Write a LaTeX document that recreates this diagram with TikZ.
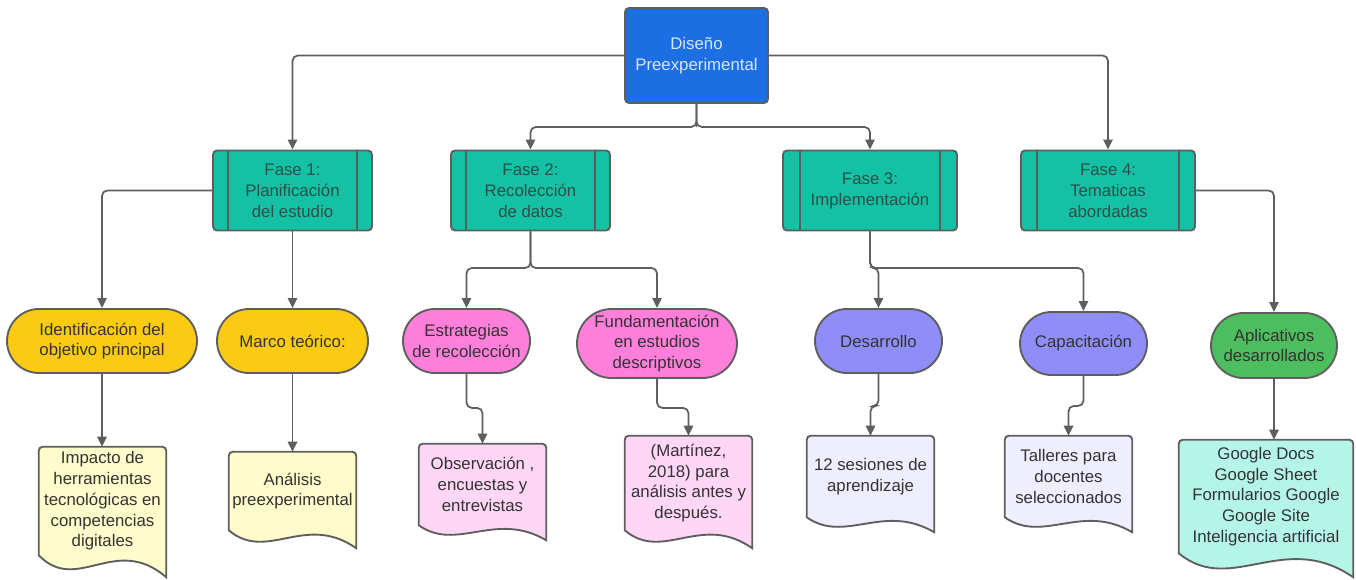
\documentclass[tikz,border=0pt]{standalone}
\usepackage{fontspec}
\setmainfont{Liberation Sans}
\usetikzlibrary{arrows.meta,shapes.misc,calc,backgrounds}
\definecolor{rootblue}{HTML}{1C6EE3}
\definecolor{roottxt}{HTML}{D7E6FF}
\definecolor{teal}{HTML}{14C1A4}
\definecolor{tealtxt}{HTML}{2F4F4A}
\definecolor{tyellow}{HTML}{FBCB14}
\definecolor{tpink}{HTML}{FF7FDB}
\definecolor{tpurple}{HTML}{8F8DF8}
\definecolor{tgreen}{HTML}{4DBE5D}
\definecolor{dyellow}{HTML}{FFFCCB}
\definecolor{dpink}{HTML}{FFD6F5}
\definecolor{dlav}{HTML}{EEEEFF}
\definecolor{dcyan}{HTML}{B5F5E8}
\definecolor{lin}{HTML}{5E5E5E}
\definecolor{txt}{HTML}{333333}
\tikzset{
  every node/.style={font=\fontsize{12.6}{15.6}\selectfont, align=center},
  rootbox/.style={draw=lin, line width=1.4pt, fill=rootblue, rounded corners=3pt, text=roottxt,
     minimum width=107.25pt, minimum height=71.25pt, inner sep=0pt},
  fasebox/.style={draw=lin, line width=1.4pt, fill=teal, rounded corners=3pt, text=tealtxt,
     minimum width=119.25pt, minimum height=60pt, inner sep=0pt},
  term/.style={rounded rectangle, draw=lin, line width=1.4pt, text=txt, inner sep=0pt,
     minimum height=48pt},
  doc/.style={text=txt, inner sep=0pt},
  conn/.style={draw=lin, line width=1.3pt, rounded corners=4pt, -{Triangle[length=7.5pt,width=7pt]}},
  plain/.style={draw=lin, line width=1.3pt, rounded corners=4pt},
  boxline/.style={draw=lin, line width=1.4pt}
}
\newcommand\docshape[3]{%
  \draw[draw=lin, line width=1.4pt, fill=#3]
    (#1.south west) [rounded corners=3pt] -- (#1.north west) -- (#1.north east) [sharp corners] -- ($(#1.south east)+(0pt,-#2)$)
    .. controls ($(#1.south west)!0.6!(#1.south east)+(0pt,1.0*#2)$) and ($(#1.south west)!0.3!(#1.south east)+(0pt,-1.8*#2)$) .. (#1.south west) -- cycle;}
\begin{document}
\begin{tikzpicture}[x=0.75pt,y=-0.75pt]
\useasboundingbox (0,0) rectangle (1356,579);
% root
\node[rootbox] (root) at (696.5,55.5) {Diseño\\Preexperimental};
% phases
\node[fasebox] (f1) at (292.5,190.5) {Fase 1:\\Planificación\\del estudio};
\node[fasebox] (f2) at (530.5,190.5) {Fase 2:\\Recolección\\de datos};
\node[fasebox, minimum width=130.5pt] (f3) at (870,190.5) {Fase 3:\\Implementación};
\node[fasebox, minimum width=130.5pt] (f4) at (1108,190.5) {Fase 4:\\Tematicas\\abordadas};
\foreach \n/\o in {f1/12pt, f2/12pt, f3/13.5pt, f4/13pt} {
  \draw[boxline] ([xshift=\o]\n.north west) -- ([xshift=\o]\n.south west);
  \draw[boxline] ([xshift=-\o]\n.north east) -- ([xshift=-\o]\n.south east);
}
% terminators
\node[term, fill=tyellow, minimum width=142.5pt] (t1) at (102,341) {Identificación del\\objetivo principal};
\node[term, fill=tyellow, minimum width=113.25pt] (t2) at (292.5,341) {Marco teórico:};
\node[term, fill=tpink, minimum width=95.25pt] (t3) at (466.5,341) {Estrategias\\de recolección};
\node[term, fill=tpink, minimum width=120pt, minimum height=51.75pt] (t4) at (657,343.5) {Fundamentación\\en estudios\\descriptivos};
\node[term, fill=tpurple, minimum width=95.25pt] (t5) at (878.5,341) {Desarrollo};
\node[term, fill=tpurple, minimum width=95.25pt, minimum height=47.25pt] (t6) at (1083.5,343.5) {Capacitación};
\node[term, fill=tgreen, minimum width=94.5pt, minimum height=48.75pt] (t7) at (1274,345.5) {Aplicativos\\desarrollados};
% documents
\node[doc, minimum width=95.25pt, minimum height=81pt] (d1) at (102.5,501) {Impacto de\\herramientas\\tecnológicas en\\competencias\\digitales};
\node[doc, minimum width=95.25pt, minimum height=58.5pt] (d2) at (292.5,491) {Análisis\\preexperimental};
\node[doc, minimum width=95.25pt, minimum height=60.75pt] (d3) at (482.5,484.5) {Observación ,\\encuestas y\\entrevistas};
\node[doc, minimum width=95.25pt, minimum height=70.5pt] (d4) at (688.5,483) {(Martínez,\\2018) para\\análisis antes y\\después.};
\node[doc, minimum width=95.25pt, minimum height=60.75pt] (d5) at (870.5,476.5) {12 sesiones de\\aprendizaje};
\node[doc, minimum width=95.25pt, minimum height=60.75pt] (d6) at (1068.5,476.5) {Talleres para\\docentes\\seleccionados};
\node[doc, minimum width=130.5pt, minimum height=84.75pt] (d7) at (1266,496.5) {Google Docs\\Google Sheet\\Formularios Google\\Google Site\\Inteligencia artificial};
\begin{pgfonlayer}{background}
\docshape{d1}{16.5pt}{dyellow}
\docshape{d2}{13.5pt}{dyellow}
\docshape{d3}{11.25pt}{dpink}
\docshape{d4}{13.5pt}{dpink}
\docshape{d5}{11.25pt}{dlav}
\docshape{d6}{11.25pt}{dlav}
\docshape{d7}{18pt}{dcyan}
\end{pgfonlayer}
% connectors
\coordinate (j1) at (696.5,127);
\coordinate (j2) at (530.5,268);
\coordinate (j3) at (870,268);
\draw[conn] (root.west) -| (f1.north);
\draw[conn] (root.east) -| (f4.north);
\draw[plain] (root.south) -- (j1);
\draw[conn] (root.south) -- (j1) -| (f2.north);
\draw[conn] (root.south) -- (j1) -| (f3.north);
\draw[conn] (f1.west) -| (t1.north);
\draw[conn] (f1.south) -- (t2.north);
\draw[conn] (f2.south) -- (j2) -| (t3.north);
\draw[conn] (f2.south) -- (j2) -| (t4.north);
\draw[conn] (f3.south) -- (j3) -| (t5.north);
\draw[conn] (f3.south) -- (j3) -| (t6.north);
\draw[conn] (f4.east) -| (t7.north);
\draw[conn] (t1.south) -- (t1.south |- d1.north);
\draw[conn] (t2.south) -- (d2.north);
\draw[conn] (t3.south) -- ++(0,34) -| (d3.north);
\draw[conn] (t4.south) -- ++(0,29) -| (d4.north);
\draw[conn] (t5.south) -- ++(0,32) -| (d5.north);
\draw[conn] (t6.south) -- ++(0,30) -| (d6.north);
\draw[conn] (t7.south) -- (t7.south |- d7.north);
\end{tikzpicture}
\end{document}
